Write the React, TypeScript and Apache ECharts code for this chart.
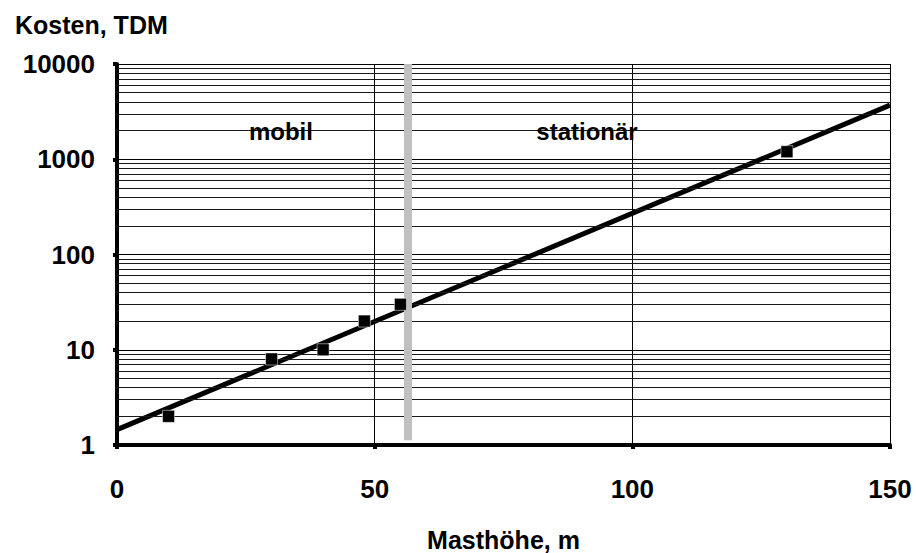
import React, { useEffect, useRef } from "react";
import * as echarts from "echarts";

const mastHeight = [10, 30, 40, 48, 55, 130];
const cost = [2, 8, 10, 20, 30, 1200];
const trendX = [0, 150];
const trendY = [1.45, 3700];
const decades = [1, 10, 100, 1000];
const minorSteps = [2, 3, 4, 5, 6, 7, 8, 9];
const regionLabels = ["mobil", "stationär"];
const regionX = [31.8, 91.2];
const regionY = 1950;
const boundaryX = 56.5;
const boundaryY = [1.12, 10000];

const FONT = "'Liberation Sans', Arial, sans-serif";

export default function App() {
  const ref = useRef<HTMLDivElement>(null);
  useEffect(() => {
    if (!ref.current) return;
    const chart = echarts.init(ref.current, undefined, { renderer: "svg" });
    const minorLines: any[] = [];
    decades.forEach((d) =>
      minorSteps.forEach((k) => minorLines.push({ yAxis: d * k }))
    );
    chart.setOption({
      animation: false,
      backgroundColor: "#ffffff",
      title: {
        text: "Kosten, TDM",
        left: 10,
        top: 7,
        textStyle: { fontFamily: FONT, fontWeight: "bold", fontSize: 25, color: "#000" },
      },
      grid: { left: 117, right: 26, top: 64, bottom: 108, containLabel: false, outerBoundsMode: "none" },
      xAxis: {
        type: "value",
        min: 0,
        max: 150,
        interval: 50,
        name: "Masthöhe, m",
        nameLocation: "middle",
        nameGap: 82,
        nameTextStyle: { fontFamily: FONT, fontWeight: "bold", fontSize: 25, color: "#000" },
        axisLine: { show: true, onZero: false, lineStyle: { color: "#000", width: 4 } },
        axisTick: { show: true, length: 4, lineStyle: { color: "#000", width: 4 } },
        axisLabel: { margin: 31, fontFamily: FONT, fontWeight: "bold", fontSize: 26, color: "#000" },
        splitLine: { show: true, lineStyle: { color: "#000", width: 1 } },
      },
      yAxis: {
        type: "log",
        logBase: 10,
        min: 1,
        max: 10000,
        axisLine: { show: true, lineStyle: { color: "#000", width: 4 } },
        axisTick: { show: true, length: 4, lineStyle: { color: "#000", width: 4 } },
        axisLabel: {
          margin: 22,
          fontFamily: FONT,
          fontWeight: "bold",
          fontSize: 26,
          color: "#000",
          padding: [6, 0, 0, 0],
          formatter: (v: number) => String(Math.round(v)),
        },
        splitLine: { show: true, lineStyle: { color: "#000", width: 1 } },
        minorTick: { show: false },
        minorSplitLine: { show: false },
      },
      series: [
        {
          type: "line",
          name: "grid",
          data: [],
          z: 1,
          silent: true,
          markLine: {
            silent: true,
            symbol: "none",
            label: { show: false },
            lineStyle: { color: "#1a1a1a", width: 1, type: "solid", opacity: 1 },
            data: minorLines,
          },
        },
        {
          type: "line",
          name: "boundary",
          data: [],
          z: 3,
          silent: true,
          markLine: {
            silent: true,
            symbol: "none",
            label: { show: false },
            lineStyle: { color: "#c0c0c0", width: 8, type: "solid", opacity: 1, cap: "butt" },
            data: [[{ coord: [boundaryX, boundaryY[0]] }, { coord: [boundaryX, boundaryY[1]] }]],
          },
        },
        {
          type: "line",
          name: "trend",
          data: trendX.map((x, i) => [x, trendY[i]]),
          showSymbol: false,
          symbol: "none",
          lineStyle: { color: "#000", width: 5 },
          z: 4,
        },
        {
          type: "scatter",
          name: "data",
          data: mastHeight.map((x, i) => [x, cost[i]]),
          symbol: "rect",
          symbolSize: 12,
          itemStyle: { color: "#000", opacity: 1, borderColor: "#ffffff", borderWidth: 0.5 },
          z: 5,
        },
        {
          type: "scatter",
          name: "labels",
          data: regionLabels.map((t, i) => ({ value: [regionX[i], regionY], name: t })),
          symbolSize: 0,
          z: 6,
          itemStyle: { opacity: 1 },
          label: {
            show: true,
            position: "inside",
            formatter: (p: any) => p.name,
            fontFamily: FONT,
            fontWeight: "bold",
            fontSize: 24,
            color: "#000",
          },
        },
      ],
    });
    return () => chart.dispose();
  }, []);
  return (
    <div
      ref={ref}
      style={{ position: "fixed", left: 0, top: 0, width: 916, height: 553, background: "#fff" }}
    />
  );
}
